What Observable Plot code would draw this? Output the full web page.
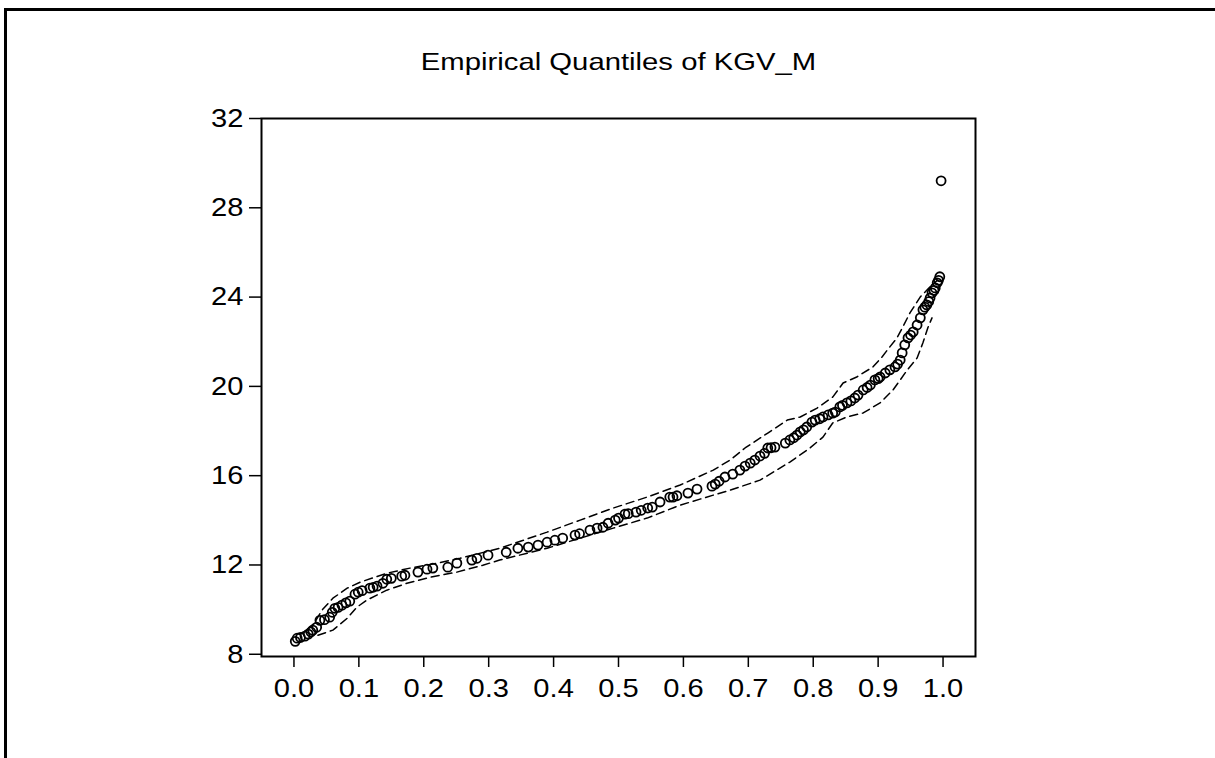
<!DOCTYPE html>
<html><head><meta charset="utf-8">
<script src="https://cdn.jsdelivr.net/npm/d3@7"></script>
<script src="https://cdn.jsdelivr.net/npm/@observablehq/plot@0.6"></script>
<style>
html,body{margin:0;padding:0;background:#fff;width:1215px;height:758px;overflow:hidden;}
#frame{position:absolute;left:4px;top:8px;width:1220px;height:760px;border-top:3px solid #000;border-left:3px solid #000;}
#chart{position:absolute;left:0;top:0;}
</style></head><body>
<div id="frame"></div><div id="chart"></div>
<script>
const title = "Empirical Quantiles of KGV_M";
const xTicks = [0.0,0.1,0.2,0.3,0.4,0.5,0.6,0.7,0.8,0.9,1.0];
const yTicks = [8,12,16,20,24,28,32];
const probs = [0.002,0.005,0.010,0.017,0.022,0.026,0.029,0.035,0.040,0.047,
 0.055,0.059,0.063,0.068,0.074,0.080,0.086,0.094,0.099,0.105,
 0.117,0.122,0.128,0.137,0.143,0.150,0.166,0.171,0.191,0.205,
 0.214,0.237,0.251,0.274,0.282,0.299,0.327,0.345,0.361,0.376,
 0.390,0.402,0.414,0.433,0.440,0.456,0.467,0.476,0.484,0.495,
 0.500,0.510,0.515,0.527,0.535,0.545,0.552,0.564,0.579,0.584,
 0.590,0.607,0.621,0.644,0.649,0.655,0.664,0.676,0.687,0.695,
 0.703,0.710,0.718,0.725,0.730,0.735,0.741,0.757,0.764,0.770,
 0.775,0.780,0.785,0.790,0.798,0.803,0.810,0.815,0.823,0.830,
 0.834,0.841,0.845,0.852,0.858,0.864,0.869,0.877,0.883,0.888,
 0.895,0.900,0.903,0.911,0.918,0.926,0.930,0.934,0.937,0.941,
 0.946,0.950,0.954,0.960,0.965,0.969,0.972,0.975,0.978,0.980,
 0.983,0.986,0.988,0.991,0.993,0.995,0.997];
const quantiles = [8.58,8.72,8.75,8.81,8.90,9.00,9.08,9.21,9.52,9.55,
 9.66,9.88,10.06,10.10,10.20,10.30,10.38,10.69,10.78,10.85,
 10.96,11.00,11.05,11.18,11.36,11.40,11.50,11.54,11.68,11.81,
 11.86,11.90,12.08,12.22,12.30,12.44,12.57,12.75,12.80,12.89,
 13.02,13.11,13.20,13.34,13.40,13.56,13.65,13.69,13.87,14.01,
 14.10,14.28,14.30,14.37,14.45,14.55,14.59,14.82,15.04,15.04,
 15.10,15.22,15.40,15.53,15.62,15.75,15.94,16.07,16.25,16.43,
 16.56,16.70,16.88,17.00,17.24,17.25,17.28,17.46,17.60,17.70,
 17.82,17.96,18.05,18.18,18.40,18.49,18.55,18.63,18.72,18.80,
 18.85,19.08,19.15,19.26,19.35,19.48,19.61,19.84,19.95,20.06,
 20.29,20.35,20.42,20.60,20.74,20.87,21.00,21.18,21.50,21.86,
 22.17,22.30,22.44,22.75,23.07,23.43,23.55,23.65,23.80,23.96,
 24.19,24.30,24.41,24.64,24.75,24.91,29.21];
const upperP = [0.020,0.032,0.043,0.060,0.082,0.102,0.143,0.179,0.214,0.256,0.317,0.390,0.441,0.492,0.544,0.595,0.646,0.672,0.695,0.730,0.760,0.780,0.806,0.830,0.846,0.867,0.892,0.906,0.918,0.929,0.938,0.949,0.965,0.980,0.992];
const upperQ = [9.08,9.43,9.97,10.51,10.96,11.23,11.63,11.86,12.04,12.30,12.75,13.47,14.01,14.55,15.04,15.58,16.25,16.70,17.24,17.91,18.49,18.63,19.03,19.52,20.15,20.42,20.87,21.32,21.77,22.17,22.66,23.29,24.01,24.46,24.77];
const lowerP = [0.037,0.060,0.082,0.097,0.112,0.143,0.174,0.210,0.251,0.291,0.317,0.390,0.441,0.492,0.544,0.595,0.646,0.672,0.718,0.764,0.795,0.815,0.830,0.852,0.877,0.903,0.923,0.945,0.960,0.969,0.977,0.983];
const lowerQ = [8.85,9.08,9.61,10.11,10.42,10.87,11.18,11.45,11.68,11.99,12.22,12.75,13.20,13.65,14.10,14.68,15.13,15.35,15.80,16.61,17.24,17.73,18.36,18.63,18.81,19.26,19.84,20.74,21.27,21.95,22.66,23.07];

const points = probs.map((p, i) => ({p, q: quantiles[i]}));
const upper = upperP.map((p, i) => ({p, q: upperQ[i]}));
const lower = lowerP.map((p, i) => ({p, q: lowerQ[i]}));

const dash = {x: "p", y: "q", stroke: "#000", strokeWidth: 1.5, strokeDasharray: "8,5"};
const chart = Plot.plot({
  width: 1215, height: 758,
  marginLeft: 261, marginRight: 240, marginTop: 118, marginBottom: 102,
  style: {fontFamily: "'Liberation Sans', Arial, sans-serif", background: "transparent", color: "#000"},
  x: {domain: [-0.05, 1.05]},
  y: {domain: [7.9, 32]},
  marks: [
    Plot.frame({stroke: "#000", strokeWidth: 2}),
    Plot.axisY({ticks: yTicks, tickSize: 12, tickPadding: 6, fontSize: 26, label: null, strokeWidth: 1.5, tickFormat: d => String(d)}),
    Plot.axisX({ticks: xTicks, tickSize: 11, tickPadding: 11, fontSize: 26, label: null, strokeWidth: 1.5, tickFormat: d => d.toFixed(1)}),
    Plot.line(upper, dash),
    Plot.line(lower, dash),
    Plot.dot(points, {x: "p", y: "q", r: 4.5, stroke: "#000", strokeWidth: 1.8, fill: "none"}),
    Plot.text([title], {frameAnchor: "top", dy: -56, fontSize: 24, lineAnchor: "middle"})
  ]
});
document.getElementById("chart").append(chart);
chart.querySelectorAll("text").forEach(t => {
  const isTitle = t.textContent === title;
  const s = isTitle ? 1.22 : 1.12;
  const b = t.getBBox();
  const anchor = getComputedStyle(t).textAnchor;
  const px = anchor === "end" ? b.x + b.width : anchor === "start" ? b.x : b.x + b.width / 2;
  const tr = t.getAttribute("transform") || "";
  t.setAttribute("transform", `${tr} translate(${px},0) scale(${s},1) translate(${-px},0)`);
});
</script>
</body></html>
